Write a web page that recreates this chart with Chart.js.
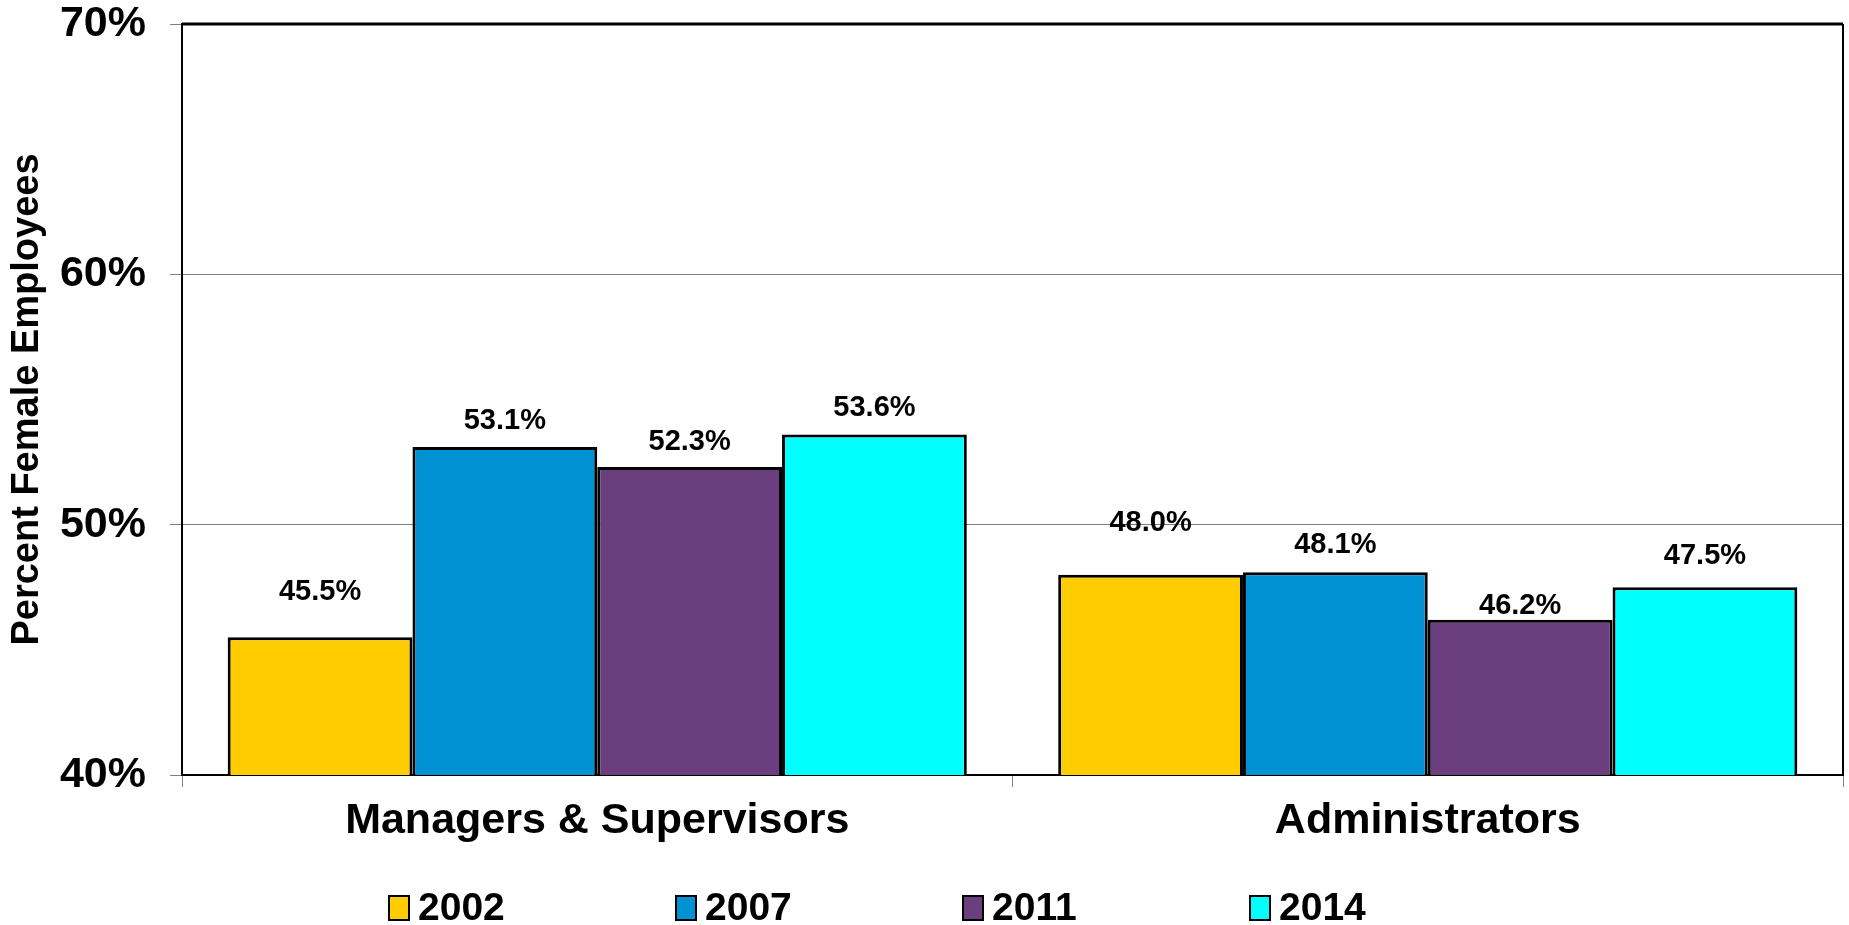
<!DOCTYPE html>
<html lang="en">

<head>
    <meta charset="UTF-8">
    <title>Percent Female Employees</title>
    <script src="https://cdn.jsdelivr.net/npm/chart.js@4.4.1/dist/chart.umd.min.js"></script>
    <style>
        html, body {
            margin: 0;
            padding: 0;
            background: #fff;
            overflow: hidden;
        }

        canvas {
            display: block;
        }
    </style>
</head>

<body>
    <canvas id="myChart" width="1849" height="925"></canvas>
    <script>
        // chart values
        const categories = ['Managers & Supervisors', 'Administrators'];
        const years = ['2002', '2007', '2011', '2014'];
        const values2002 = [45.5, 48.0];
        const values2007 = [53.1, 48.1];
        const values2011 = [52.3, 46.2];
        const values2014 = [53.6, 47.5];
        const yTicks = [40, 50, 60, 70];

        const colors = ['#FFCC00', '#0092D2', '#6B3F7D', '#00FFFF'];
        // how far each value label sits above its bar (px), per series
        const labelLift = [[45, 52], [26, 27], [25, 14], [27, 31]];

        const FONT = '"Liberation Sans", Arial, sans-serif';

        // value labels above bars + plot frame
        const barLabels = {
            id: 'barLabels',
            afterDatasetsDraw(chart) {
                const ctx = chart.ctx;
                const area = chart.chartArea;
                ctx.save();
                ctx.strokeStyle = '#000';
                ctx.lineWidth = 3;
                ctx.beginPath();
                ctx.moveTo(area.left, area.top);
                ctx.lineTo(area.right, area.top);
                ctx.stroke();
                ctx.lineWidth = 2;
                ctx.beginPath();
                ctx.moveTo(area.right, area.top);
                ctx.lineTo(area.right, area.bottom);
                ctx.stroke();

                ctx.font = 'bold 29px ' + FONT;
                ctx.fillStyle = '#000';
                ctx.textAlign = 'center';
                ctx.textBaseline = 'middle';
                chart.data.datasets.forEach(function (ds, i) {
                    chart.getDatasetMeta(i).data.forEach(function (bar, j) {
                        ctx.fillText(ds.data[j].toFixed(1) + '%', bar.x, bar.y - labelLift[i][j]);
                    });
                });
                ctx.restore();
            }
        };

        // legend row along the bottom
        const bottomLegend = {
            id: 'bottomLegend',
            afterDraw(chart) {
                const ctx = chart.ctx;
                const startX = 389, step = 287, y = 908;
                ctx.save();
                ctx.font = 'bold 39px ' + FONT;
                ctx.textBaseline = 'middle';
                ctx.textAlign = 'left';
                chart.data.datasets.forEach(function (ds, i) {
                    const x = startX + i * step;
                    ctx.fillStyle = ds.backgroundColor;
                    ctx.fillRect(x, y - 12, 20, 24);
                    ctx.strokeStyle = '#000';
                    ctx.lineWidth = 2;
                    ctx.strokeRect(x, y - 12, 20, 24);
                    ctx.fillStyle = '#000';
                    ctx.fillText(ds.label, x + 29, y + 1);
                });
                ctx.restore();
            }
        };

        const seriesValues = [values2002, values2007, values2011, values2014];

        const ctx = document.getElementById('myChart').getContext('2d');
        const myChart = new Chart(ctx, {
            type: 'bar',
            data: {
                labels: categories,
                datasets: years.map(function (year, i) {
                    return {
                        label: year,
                        data: seriesValues[i],
                        backgroundColor: colors[i],
                        borderColor: '#000',
                        borderWidth: 3,
                        categoryPercentage: 0.89,
                        barPercentage: 1.0
                    };
                })
            },
            options: {
                responsive: false,
                animation: false,
                devicePixelRatio: 1,
                layout: {
                    padding: { top: 24, right: 6, left: 0, bottom: 0 }
                },
                plugins: {
                    legend: { display: false },
                    tooltip: { enabled: false }
                },
                scales: {
                    x: {
                        grid: {
                            drawOnChartArea: false,
                            drawTicks: true,
                            tickLength: 12,
                            color: '#808080',
                            offset: true
                        },
                        border: { color: '#000', width: 2 },
                        ticks: {
                            color: '#000',
                            padding: 8,
                            font: { family: FONT, size: 43, weight: 'bold' }
                        },
                        afterFit(scale) {
                            scale.height = 150;
                            scale.paddingLeft = 0;
                            scale.paddingRight = 0;
                        }
                    },
                    y: {
                        min: yTicks[0],
                        max: yTicks[yTicks.length - 1],
                        afterBuildTicks(scale) {
                            scale.ticks = yTicks.map(function (v) { return { value: v }; });
                        },
                        grid: {
                            color: function (c) {
                                const v = c.tick.value;
                                return (v === 50 || v === 60) ? '#808080' : 'rgba(0,0,0,0)';
                            },
                            tickColor: '#808080',
                            tickLength: 12,
                            lineWidth: 1
                        },
                        border: { color: '#000', width: 2 },
                        ticks: {
                            color: '#000',
                            padding: 24,
                            font: { family: FONT, size: 43, weight: 'bold' },
                            callback: function (v) { return v + '%'; }
                        },
                        title: {
                            display: true,
                            text: 'Percent Female Employees',
                            color: '#000',
                            padding: { top: 5, bottom: 0 },
                            font: { family: FONT, size: 38, weight: 'bold' }
                        },
                        afterFit(scale) {
                            scale.width = 182;
                            scale.paddingTop = 0;
                            scale.paddingBottom = 0;
                        }
                    }
                }
            },
            plugins: [barLabels, bottomLegend]
        });
    </script>

</body>

</html>
